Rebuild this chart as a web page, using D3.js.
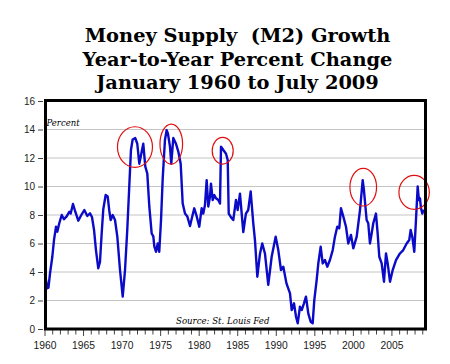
<!DOCTYPE html>
<html><head><meta charset="utf-8">
<script src="https://cdn.jsdelivr.net/npm/d3@7"></script>
<style>html,body{margin:0;padding:0;background:#fff;}svg{display:block;}text{white-space:pre;}</style>
</head><body>
<script>
// ---- data ----
const titleLines = ["Money Supply  (M2) Growth", "Year-to-Year Percent Change", "January 1960 to July 2009"];
const years = [1960.00,1960.30,1960.45,1960.65,1960.95,1961.17,1961.43,1961.60,1961.85,1962.17,1962.46,1962.81,1963.15,1963.33,1963.63,1963.93,1964.32,1964.71,1965.10,1965.49,1965.84,1966.10,1966.36,1966.61,1966.91,1967.13,1967.35,1967.56,1967.87,1968.13,1968.34,1968.52,1968.78,1969.08,1969.38,1969.73,1970.08,1970.38,1970.67,1970.93,1971.15,1971.37,1971.71,1971.97,1972.23,1972.49,1972.75,1973.01,1973.27,1973.53,1973.84,1974.05,1974.18,1974.40,1974.62,1974.82,1975.05,1975.27,1975.56,1975.78,1975.95,1976.21,1976.38,1976.64,1976.99,1977.29,1977.60,1977.86,1978.16,1978.46,1978.81,1979.10,1979.36,1979.68,1980.01,1980.32,1980.53,1980.75,1980.97,1981.18,1981.40,1981.53,1981.75,1981.96,1982.18,1982.48,1982.70,1982.83,1983.13,1983.48,1983.70,1983.83,1984.22,1984.42,1984.77,1984.99,1985.29,1985.72,1985.94,1986.06,1986.36,1986.68,1987.02,1987.24,1987.54,1987.89,1988.18,1988.53,1988.96,1989.40,1989.92,1990.26,1990.61,1990.91,1991.32,1991.78,1992.00,1992.30,1992.56,1992.78,1993.07,1993.30,1993.59,1993.85,1994.15,1994.46,1994.72,1994.93,1995.24,1995.45,1995.76,1996.02,1996.32,1996.61,1996.96,1997.32,1997.61,1997.91,1998.17,1998.39,1998.69,1999.04,1999.34,1999.69,1999.99,2000.43,2000.86,2001.21,2001.37,2001.72,2001.93,2002.15,2002.37,2002.58,2002.93,2003.15,2003.36,2003.67,2003.97,2004.23,2004.45,2004.75,2005.10,2005.53,2006.04,2006.47,2006.91,2007.25,2007.43,2007.64,2007.90,2008.12,2008.34,2008.51,2008.64,2008.77,2008.94,2009.05];
const values = [3.85,2.86,2.9,3.9,5.07,6.25,7.18,6.83,7.42,8.0,7.7,7.9,8.23,8.1,8.77,8.23,7.6,8.0,8.35,7.93,8.12,7.84,6.95,5.54,4.26,4.7,6.7,8.4,9.4,9.3,8.3,7.65,8.0,7.65,6.48,4.14,2.27,4.14,6.95,10.0,12.56,13.3,13.4,13.0,11.6,12.3,13.0,11.4,10.9,8.6,6.7,6.5,5.8,5.42,6.0,5.42,7.65,10.6,13.26,13.96,13.7,12.8,11.6,13.4,13.0,12.45,11.6,8.8,8.1,7.9,7.23,7.9,8.47,7.9,7.18,8.47,8.1,8.7,10.45,8.6,9.3,10.2,9.05,9.4,9.17,9.05,8.8,12.8,12.56,12.3,11.86,8.1,7.77,7.65,9.05,8.35,9.5,6.8,7.65,8.1,8.35,9.65,7.4,6.2,3.67,5.3,6.0,5.3,3.1,5.07,6.48,5.54,4.14,4.37,3.2,2.5,1.33,1.8,0.86,0.4,1.56,1.33,1.8,2.27,1.1,0.51,0.4,2.03,3.44,4.6,5.77,4.6,4.84,4.37,4.84,5.54,6.48,7.18,7.07,8.47,7.9,7.18,6.0,6.6,5.66,6.48,8.35,10.45,9.75,7.65,7.42,6.0,6.7,7.42,8.1,6.7,5.07,4.6,3.32,5.3,4.6,3.32,4.14,4.84,5.3,5.54,6.0,6.25,6.95,6.48,5.42,7.65,10.0,9.05,9.17,8.47,8.1,8.3];
const yTickValues = [0,2,4,6,8,10,12,14,16];
const xTickYears = d3.range(1960, 2010);
const xLabelYears = [1960,1965,1970,1975,1980,1985,1990,1995,2000,2005];
const circleYears = [1971.67, 1976.38, 1983.05, 2001.28, 2007.88];
const circleValues = [12.77, 12.98, 12.51, 9.95, 9.59];
const circleRx = [17.5, 11.3, 10.5, 13.3, 15.2];
const circleRy = [20.3, 20, 13.3, 18.8, 17];

// ---- layout ----
const W = 450, H = 364;
const svg = d3.select("body").append("svg").attr("width", W).attr("height", H);
svg.append("rect").attr("width", W).attr("height", H).attr("fill", "#fff");

const x = d3.scaleLinear().domain([1960, 2009.42]).range([45, 426]);
const y = d3.scaleLinear().domain([0, 16]).range([329, 101]);

// title
const tBase = [42, 65.5, 88.5];
titleLines.forEach((t, i) => {
  svg.append("text").attr("x", 237.5).attr("y", tBase[i])
    .attr("text-anchor", "middle").attr("xml:space", "preserve")
    .attr("font-family", "DejaVu Serif").attr("font-weight", "bold")
    .attr("font-size", 19.4).attr("fill", "#000").text(t);
});

// gridlines
svg.append("g").selectAll("line").data(yTickValues.filter(v => v > 0 && v < 16)).join("line")
  .attr("x1", 47).attr("x2", 424)
  .attr("y1", d => y(d)).attr("y2", d => y(d))
  .attr("stroke", "#c4c4c4").attr("stroke-width", 1);

// y axis ticks + labels
const yAxis = d3.axisLeft(y).tickValues(yTickValues).tickSize(5).tickPadding(3).tickFormat(d3.format("d"));
const gy = svg.append("g").attr("transform", "translate(43,0)").call(yAxis);
gy.select(".domain").remove();
gy.selectAll(".tick line").attr("stroke", "#444");
gy.selectAll("text").attr("font-family", "Liberation Sans, Arial, sans-serif").attr("font-size", 10).attr("fill", "#222");

// x axis ticks
const gx = svg.append("g").attr("transform", "translate(0,330)");
gx.selectAll("line").data(xTickYears).join("line")
  .attr("x1", d => x(d)).attr("x2", d => x(d))
  .attr("y1", 0).attr("y2", d => d % 5 === 0 ? 6 : 4.5)
  .attr("stroke", "#444").attr("stroke-width", 1);
gx.selectAll("text").data(xLabelYears).join("text")
  .attr("x", d => x(d)).attr("y", 18.5).attr("text-anchor", "middle")
  .attr("font-family", "Liberation Sans, Arial, sans-serif").attr("font-size", 10.3).attr("fill", "#1a1a1a")
  .text(d => d);

// Percent label
svg.append("text").attr("x", 46.5).attr("y", 126).attr("font-family", "DejaVu Serif")
  .attr("font-style", "italic").attr("font-size", 8.5).attr("fill", "#000").text("Percent");

// Source label
svg.append("text").attr("x", 176).attr("y", 323.5).attr("font-family", "DejaVu Serif")
  .attr("font-style", "italic").attr("font-size", 8.6).attr("fill", "#000").text("Source: St. Louis Fed");

// line
const pts = years.map((yr, i) => [yr, values[i]]);
svg.append("path").datum(pts)
  .attr("d", d3.line().x(d => x(d[0])).y(d => y(d[1])))
  .attr("fill", "none").attr("stroke", "#0a0ac8").attr("stroke-width", 2.4)
  .attr("stroke-linejoin", "round").attr("stroke-linecap", "round");

// circles
svg.append("g").selectAll("ellipse").data(circleYears).join("ellipse")
  .attr("cx", (d) => x(d)).attr("cy", (d, i) => y(circleValues[i]))
  .attr("rx", (d, i) => circleRx[i]).attr("ry", (d, i) => circleRy[i])
  .attr("fill", "none").attr("stroke", "#e01010").attr("stroke-width", 1.2);

// frame
svg.append("rect").attr("x", 45.5).attr("y", 100.5).attr("width", 380).attr("height", 228.5)
  .attr("fill", "none").attr("stroke", "#000").attr("stroke-width", 3);
</script>
</body></html>
